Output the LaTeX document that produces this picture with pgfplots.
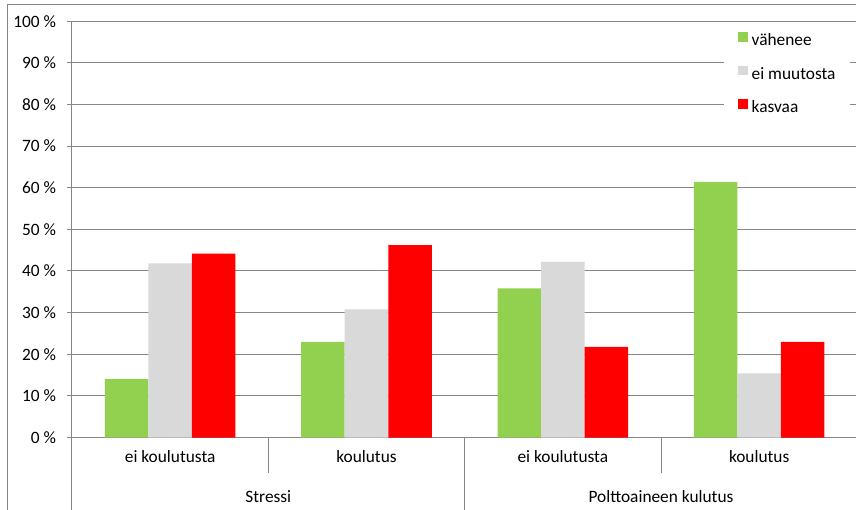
\documentclass[border=0pt]{standalone}
\usepackage{fontspec}
\setmainfont{Carlito}
\usepackage{pgfplots}
\pgfplotsset{compat=1.18}

\definecolor{vgreen}{HTML}{92D050}
\definecolor{vgray}{HTML}{D9D9D9}
\definecolor{vred}{HTML}{FF0000}
\definecolor{linegray}{HTML}{868686}

\newcommand{\chartfont}{\fontsize{13}{15}\selectfont}

\begin{document}
\begin{tikzpicture}[x=0.75pt,y=0.75pt]
% chart area frame
\draw[linegray, line width=0.75pt] (7,0) -- (7,505) -- (870,505);
\begin{axis}[
  at={(54pt,54.375pt)}, anchor=south west,
  width=589pt, height=312.2pt, scale only axis,
  clip=false,
  xmin=-0.5, xmax=3.5, ymin=0, ymax=100,
  ybar=0pt, bar width=0.2216,
  axis lines*=left,
  axis line style={linegray, line width=0.75pt},
  ymajorgrids,
  grid style={linegray, line width=0.75pt},
  ytick={0,10,...,100},
  yticklabels={0 \%,10 \%,20 \%,30 \%,40 \%,50 \%,60 \%,70 \%,80 \%,90 \%,100 \%},
  ytick align=outside,
  major tick length=4pt,
  ytick style={linegray, line width=0.75pt},
  yticklabel style={font=\chartfont, xshift=-4.5pt},
  xtick={0,1,2,3},
  xticklabels={ei koulutusta,koulutus,ei koulutusta,koulutus},
  xtick style={draw=none},
  xticklabel style={font=\chartfont, anchor=base, yshift=-15pt},
  /pgf/number format/assume math mode=true,
  legend cell align=left,
  legend image code/.code={%
    \fill[#1,draw=none] (0pt,-0.5pt) rectangle (7.5pt,6.5pt);
    \path (10.2pt,0pt);},
  legend style={
    at={(rel axis cs:0.830,0.9935)}, anchor=north west,
    draw=none, fill=white,
    inner xsep=10.5pt, inner ysep=6.2pt,
    font=\chartfont,
    row sep=12.1pt,
    nodes={inner sep=0pt, text height=10pt, text depth=3pt},
  },
]
\addplot[fill=vgreen, draw=none] coordinates {(0,14.0) (1,23.0) (2,35.8) (3,61.4)};
\addplot[fill=vgray, draw=none] coordinates {(0,41.8) (1,30.8) (2,42.2) (3,15.4)};
\addplot[fill=vred, draw=none] coordinates {(0,44.2) (1,46.2) (2,21.8) (3,23.0)};
\legend{vähenee, ei muutosta, kasvaa}

% category separators below the axis
\draw[linegray, line width=0.75pt] (axis cs:0.5,0) -- ++(0pt,-26.6pt);
\draw[linegray, line width=0.75pt] (axis cs:2.5,0) -- ++(0pt,-26.6pt);
\draw[linegray, line width=0.75pt] (axis cs:-0.5,0) -- ++(0pt,-60pt);
\draw[linegray, line width=0.75pt] (axis cs:1.5,0) -- ++(0pt,-60pt);
\draw[linegray, line width=0.75pt] (axis cs:3.5,0) -- ++(0pt,-60pt);

% group labels
\node[font=\chartfont, anchor=base] at ([yshift=-48.8pt]axis cs:0.5,0) {Stressi};
\node[font=\chartfont, anchor=base] at ([yshift=-48.8pt]axis cs:2.5,0) {Polttoaineen kulutus};
\end{axis}
\pgfresetboundingbox
\path (0,0) rectangle (856,510);
\end{tikzpicture}
\end{document}
